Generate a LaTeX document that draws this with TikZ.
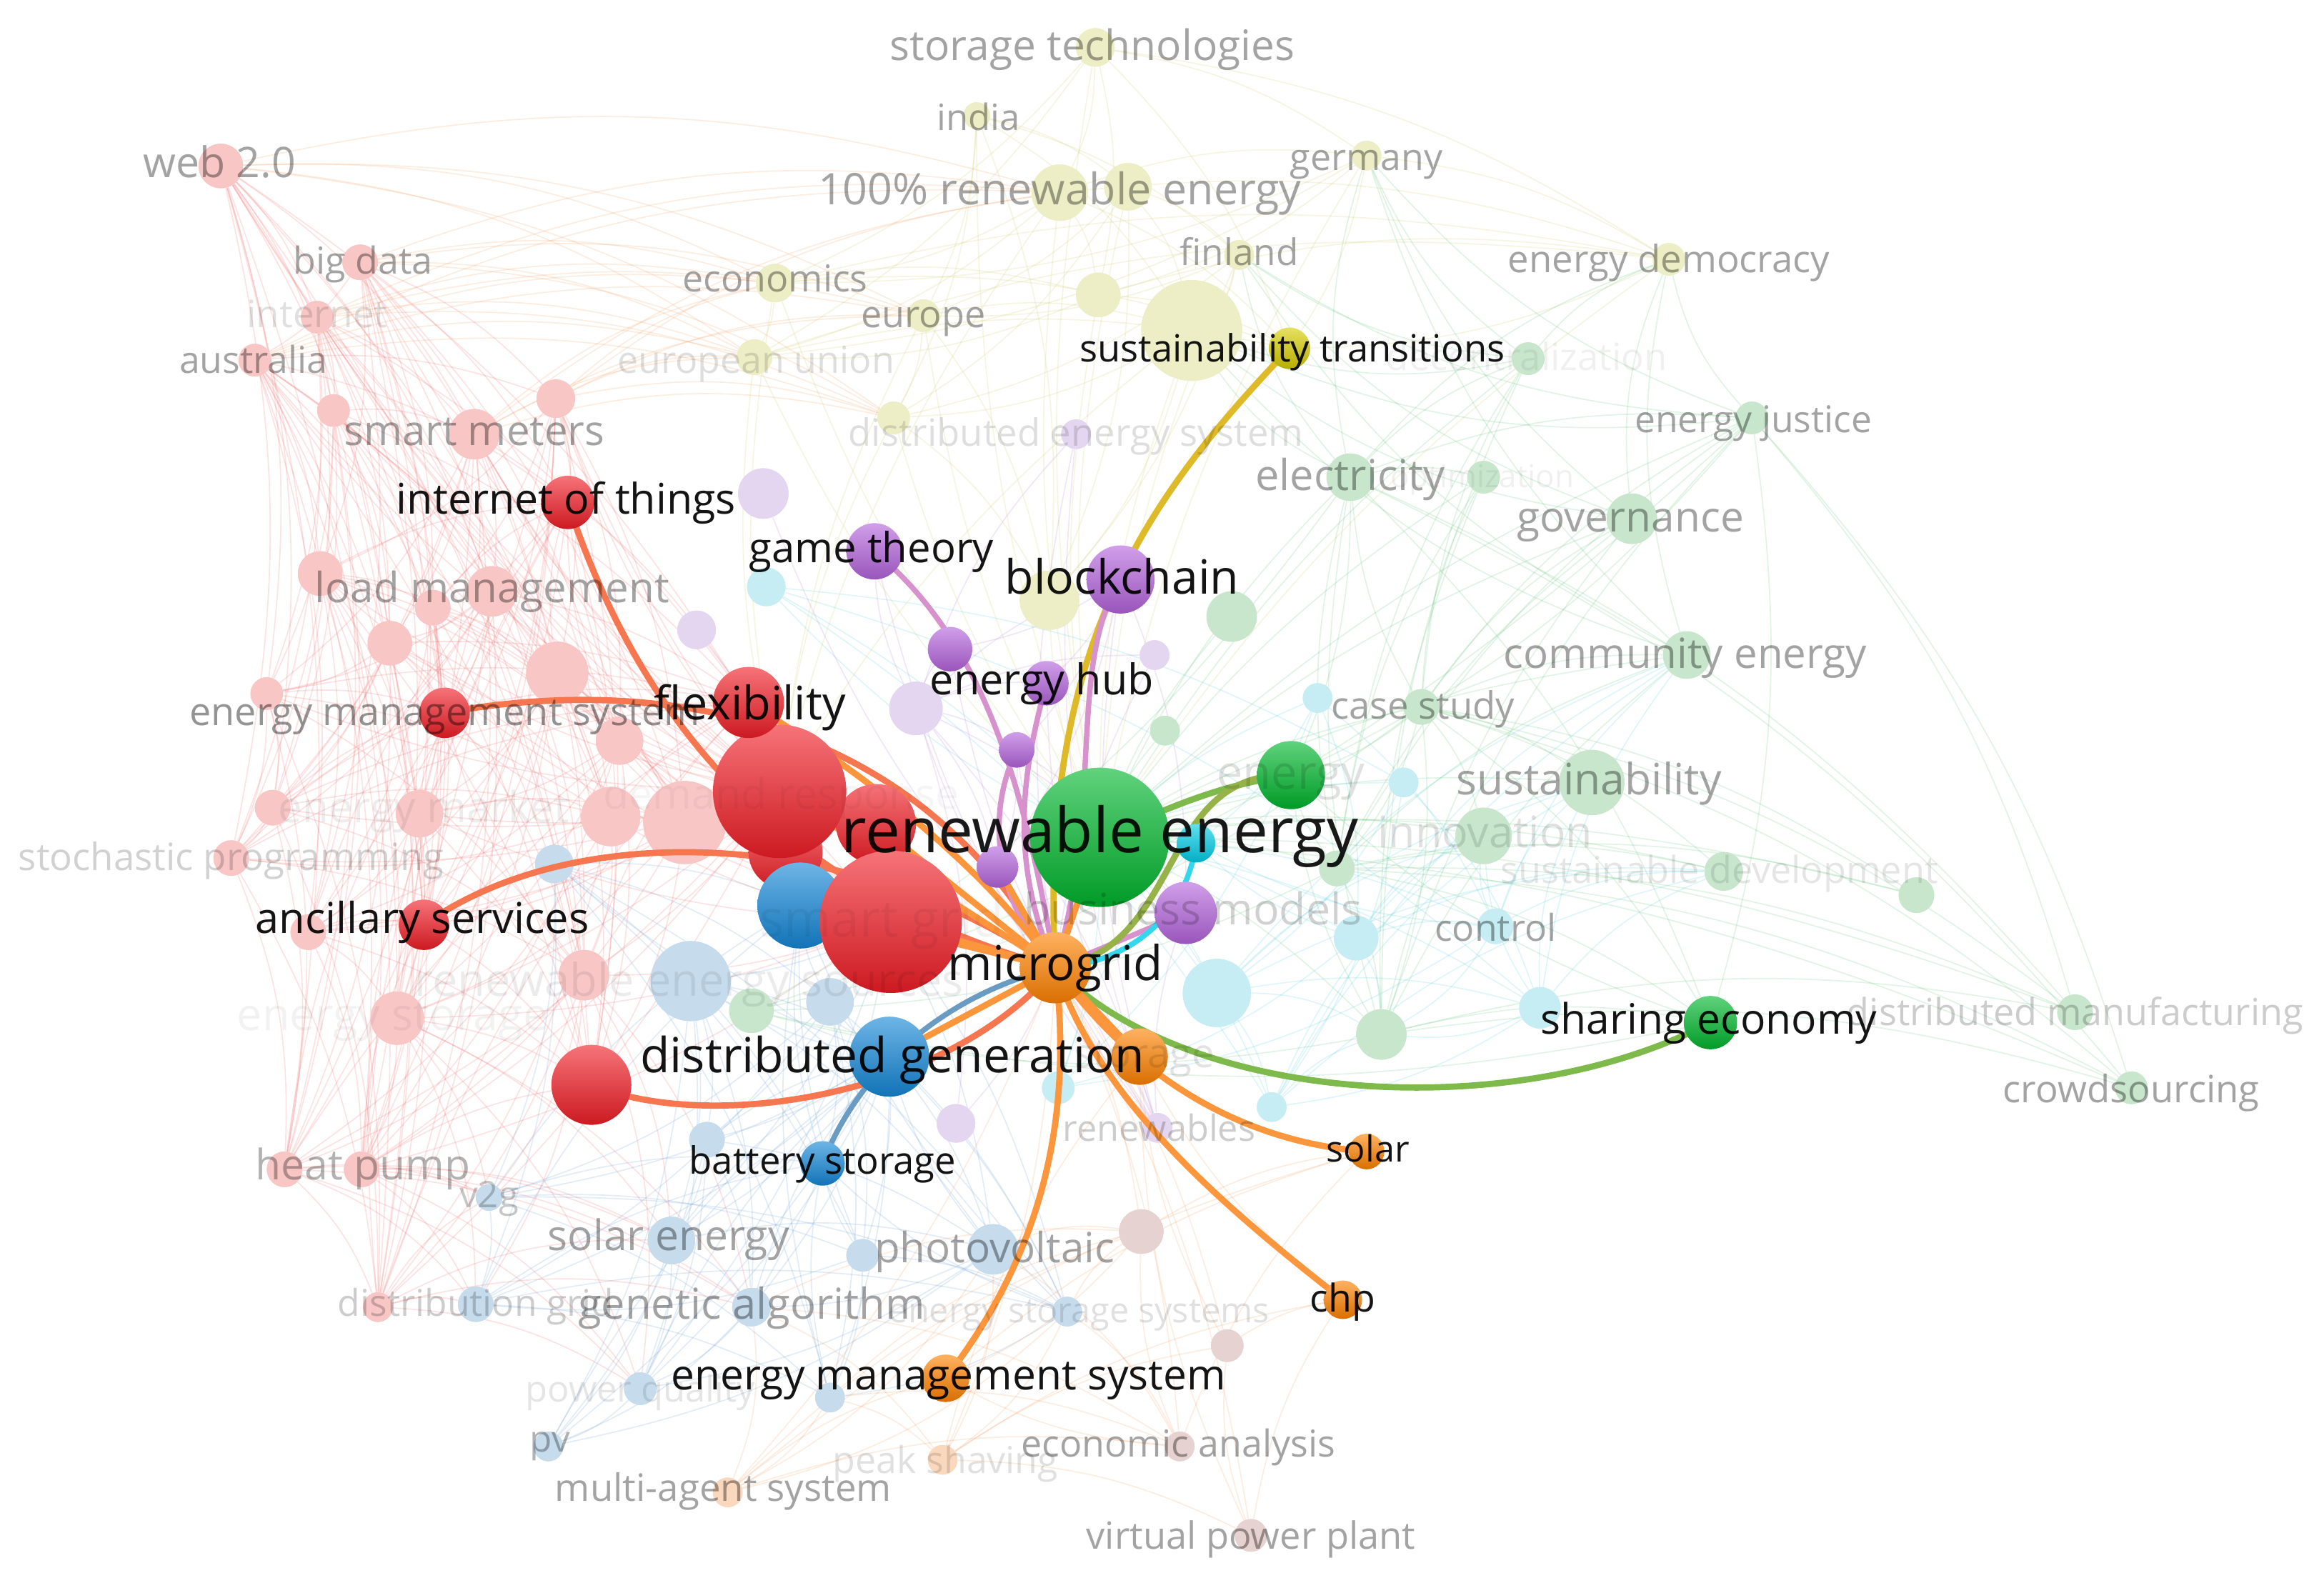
\documentclass[tikz,border=0pt]{standalone}
\usepackage{fontspec}
\setmainfont{Open Sans}
\usepackage{graphicx}
\definecolor{cR}{RGB}{240,30,38}
\definecolor{cB}{RGB}{20,135,215}
\definecolor{cG}{RGB}{0,182,45}
\definecolor{cY}{RGB}{215,205,0}
\definecolor{cP}{RGB}{180,100,220}
\definecolor{cO}{RGB}{255,130,0}
\definecolor{cC}{RGB}{0,205,230}
\definecolor{pR}{RGB}{249,198,198}
\definecolor{pB}{RGB}{198,220,237}
\definecolor{pG}{RGB}{200,230,204}
\definecolor{pY}{RGB}{237,237,198}
\definecolor{pP}{RGB}{228,214,240}
\definecolor{pC}{RGB}{198,237,243}
\definecolor{pO}{RGB}{250,216,190}
\definecolor{pN}{RGB}{230,210,208}
\definecolor{eR}{RGB}{240,110,110}
\definecolor{eB}{RGB}{110,160,215}
\definecolor{eG}{RGB}{100,195,120}
\definecolor{eY}{RGB}{205,205,110}
\definecolor{eP}{RGB}{185,130,215}
\definecolor{eC}{RGB}{90,205,225}
\definecolor{eO}{RGB}{245,160,100}
\definecolor{sO}{RGB}{252,150,60}
\definecolor{sRO}{RGB}{246,118,80}
\definecolor{sPk}{RGB}{215,145,205}
\definecolor{sYl}{RGB}{222,185,40}
\definecolor{sBl}{RGB}{105,155,195}
\definecolor{sGr}{RGB}{125,185,75}
\tikzset{
  fe/.style={line width=0.8pt, draw opacity=0.2},
  se/.style={line width=4.2pt, line cap=round},
}
\newcommand\pn[5]{\node[circle,inner sep=0pt,minimum size=2*#4pt,fill=#5] (#1) at (#2,#3) {};}
\newcommand\sn[5]{\node[circle,inner sep=0pt,minimum size=2*#4pt,top color=#5!62!white,bottom color=#5!85!black] (#1) at (#2,#3) {};}
\newcommand\lb[6]{\node[inner sep=0pt,text=black,text opacity=#5] (#1) at (#2,{#3+2}) {\resizebox{#4pt}{!}{\strut #6}};}
\newcommand\mesh[3]{%
  \foreach \a [count=\i] in {#1}{\foreach \b [count=\j] in {#1}{%
    \ifnum\j>\i \pgfmathtruncatemacro\k{mod(\i*7+\j*3,#3)}\ifnum\k=0 \draw[#2] (\a) to[bend left=12] (\b);\fi\fi}}}
\newcommand\hub[3]{\foreach \a in {#1}{\draw[#2] (\a) to[bend right=10] (#3);}}
\newcommand\cross[3]{\foreach \a in {#1}{\foreach \b in {#2}{\draw[#3] (\a) to[bend left=14] (\b);}}}
\begin{document}
\begin{tikzpicture}[x=1pt,y=-1pt]
\fill[white] (0,0) rectangle (1568,1068);
\useasboundingbox (0,0) rectangle (1568,1068);
% pale nodes: red
\pn{rw}{149}{112}{15}{pR}\pn{rbd}{243}{177}{12}{pR}\pn{rin}{214}{214}{11}{pR}
\pn{rau}{172}{243}{11}{pR}\pn{r5}{225}{277}{11}{pR}\pn{r6}{375}{269}{13}{pR}
\pn{rsm}{320}{293}{17}{pR}\pn{r8}{216}{387}{15}{pR}\pn{rlm}{332}{399}{17}{pR}
\pn{r10}{292}{410}{12}{pR}\pn{r11}{263}{434}{15}{pR}\pn{r12}{376}{454}{21}{pR}
\pn{r13}{180}{468}{11}{pR}\pn{r14}{418}{500}{16}{pR}\pn{r15}{184}{545}{12}{pR}
\pn{rem}{283}{549}{16}{pR}\pn{r17}{412}{551}{20}{pR}\pn{r18}{462}{555}{28}{pR}
\pn{rst}{156}{579}{12}{pR}\pn{r20}{208}{629}{12}{pR}\pn{r21}{394}{658}{17}{pR}
\pn{r22}{268}{687}{18}{pR}\pn{rhp1}{192}{789}{12}{pR}\pn{rhp2}{244}{789}{12}{pR}
\pn{rdg}{255}{882}{10}{pR}
% blue
\pn{b1}{374}{583}{13}{pB}\pn{b2}{466}{662}{27}{pB}\pn{b3}{560}{676}{16}{pB}
\pn{b4}{477}{769}{12}{pB}\pn{bv2g}{330}{808}{9}{pB}\pn{bse}{453}{837}{16}{pB}
\pn{b7}{582}{847}{11}{pB}\pn{bpv}{670}{843}{17}{pB}\pn{bdg}{321}{880}{12}{pB}
\pn{bga}{507}{882}{13}{pB}\pn{bes}{720}{885}{10}{pB}\pn{bpq}{432}{937}{11}{pB}
\pn{b13}{560}{943}{10}{pB}\pn{bpv2}{370}{976}{10}{pB}
% green
\pn{g1}{831}{416}{17}{pG}\pn{g2}{786}{493}{10}{pG}\pn{gcs}{959}{477}{12}{pG}
\pn{gsu}{1074}{528}{22}{pG}\pn{gin}{1001}{564}{19}{pG}\pn{g6}{902}{586}{12}{pG}
\pn{gsd}{1163}{588}{13}{pG}\pn{g8}{1293}{604}{12}{pG}\pn{g9}{932}{698}{17}{pG}
\pn{gcm}{1138}{442}{16}{pG}\pn{ggo}{1101}{350}{17}{pG}\pn{gel}{911}{322}{16}{pG}
\pn{g13}{1001}{322}{11}{pG}\pn{gdc}{1031}{242}{11}{pG}\pn{gej}{1182}{282}{11}{pG}
\pn{gdm}{1400}{683}{12}{pG}\pn{gcr}{1438}{734}{11}{pG}\pn{g18}{507}{682}{15}{pG}
% yellow
\pn{yst}{739}{32}{13}{pY}\pn{yin}{659}{78}{9}{pY}\pn{y100a}{715}{130}{19}{pY}
\pn{y100b}{761}{126}{16}{pY}\pn{yge}{922}{105}{10}{pY}\pn{yfi}{836}{172}{10}{pY}
\pn{yec}{523}{191}{13}{pY}\pn{yeu}{623}{213}{11}{pY}\pn{y9}{741}{199}{15}{pY}
\pn{y10}{804}{223}{34}{pY}\pn{yeun}{509}{241}{12}{pY}\pn{yds}{603}{282}{11}{pY}
\pn{yed}{1126}{175}{11}{pY}\pn{y14}{708}{405}{20}{pY}
% purple
\pn{p1}{515}{333}{17}{pP}\pn{p2}{470}{425}{13}{pP}\pn{p3}{618}{478}{18}{pP}
\pn{p4}{779}{442}{10}{pP}\pn{p5}{645}{758}{13}{pP}\pn{p6}{781}{761}{10}{pP}
\pn{p7}{726}{293}{10}{pP}
% cyan
\pn{c1}{517}{396}{13}{pC}\pn{c2}{889}{471}{10}{pC}\pn{c3}{947}{528}{10}{pC}
\pn{c4}{915}{633}{15}{pC}\pn{c5}{821}{670}{23}{pC}\pn{c6}{1009}{625}{12}{pC}
\pn{c7}{1039}{680}{14}{pC}\pn{c8}{714}{734}{11}{pC}\pn{c9}{858}{747}{10}{pC}
% orange / brown
\pn{oma}{491}{1007}{10}{pO}\pn{ops}{636}{985}{10}{pO}
\pn{n1}{770}{831}{15}{pN}\pn{n2}{828}{908}{11}{pN}\pn{nea}{796}{976}{10}{pN}
\pn{nvp}{844}{1036}{11}{pN}
% strong node positions (placeholders for faint edges)
\foreach \n/\x/\y in {sre/742/565,sen/871/523,ssh/1154/690,sst/870/235,
  sgt/590/372,sbc/756/391,seh/706/461,sp1/641/438,sp2/686/506,sp3/673/585,
  sbm/800/616,scy/807/569,smg/712/653,sso/769/713,ssol/922/777,schp/906/877,
  sems/638/930,siot/383/339,sflex/505/474,semr/300/481,sanc/286/624,
  sr1/526/534,sr4/530/575,sr3/591/556,sr2/601/622,srd/399/732,
  sb1/540/611,sdg/600/713,sbat/555/785}
  {\coordinate (\n) at (\x,\y);}
% ---------- faint edges ----------
\mesh{rw,rbd,rin,rau,r5,r6,rsm,r8,rlm,r10,r11,r12,r13,r14,r15,rem,r17,r18,rst,r20,r21,r22,rhp1,rhp2,rdg,siot,semr,sanc,sflex,srd}{fe,eR}{2}
\mesh{b1,b2,b3,b4,bv2g,bse,b7,bpv,bdg,bga,bes,bpq,b13,bpv2,sbat,sdg,sb1}{fe,eB}{2}
\mesh{g1,g2,gcs,gsu,gin,g6,gsd,g8,g9,gcm,ggo,gel,g13,gdc,gej,gdm,gcr,ssh,sen,g18}{fe,eG}{3}
\mesh{yst,yin,y100a,y100b,yge,yfi,yec,yeu,y9,y10,yeun,yds,yed,y14,sst}{fe,eY}{2}
\mesh{p1,p2,p3,p4,p5,p6,p7,sgt,sbc,seh,sp1,sp2,sp3,sbm}{fe,eP}{3}
\mesh{c1,c2,c3,c4,c5,c6,c7,c8,c9,scy}{fe,eC}{2}
\mesh{oma,ops,nea,nvp,n1,n2,sems,schp,ssol,sso}{fe,eO}{2}
\hub{rw,rbd,rin,rau,r5,r6,rsm,r8,rlm,r10,r11,r12,r13,r14,r15,rem,r17,r18,rst,r20,r21,r22,rhp1,rhp2,rdg}{fe,eR}{sr1}
\hub{rw,rau,r6,rsm,r8,rlm,r11,r12,r14,rem,r17,r21,r22,rhp2}{fe,eR}{sr2}
\hub{b1,b2,b3,b4,bv2g,bse,b7,bpv,bdg,bga,bes,bpq,b13,bpv2}{fe,eB}{sdg}
\hub{b2,b4,bse,bpv,bga,bes,bpq}{fe,eB}{sr2}
\hub{g1,g2,gcs,gsu,gin,g6,gsd,g8,g9,gcm,ggo,gel,g13,gdc,gej,gdm,gcr}{fe,eG}{sre}
\hub{yst,yin,y100a,y100b,yge,yfi,yec,yeu,y9,y10,yeun,yds,yed,y14}{fe,eY}{sre}
\hub{y100a,yec,yeu,yeun,yds,y10}{fe,eY}{sr1}
\hub{p1,p2,p3,p4,p5,p6,p7}{fe,eP}{smg}
\hub{c1,c2,c3,c4,c5,c6,c7,c8,c9}{fe,eC}{sre}
\hub{oma,ops,nea,nvp,n1,n2}{fe,eO}{smg}
\cross{rw,rbd,rin,rau,rsm,r6}{yec,yeun,yeu,yds,y100a}{fe,eO}
\cross{gdc,gel,ggo,gej,gcm}{yed,y10,yge,yfi}{fe,eG}
\cross{rhp1,rhp2,rdg,r22,r21}{bse,bga,bdg,bpq,bv2g}{fe,eR}
\cross{c4,c5,c6,c7,c9}{gsu,gin,gsd,g9,gcm}{fe,eC}
\cross{bpv,bes,b13,bga}{oma,ops,n1,nea}{fe,eO}
% re-draw pale nodes on top of faint edges
\foreach \n/\x/\y/\r/\c in {rw/149/112/15/pR,rbd/243/177/12/pR,rin/214/214/11/pR,rau/172/243/11/pR,r5/225/277/11/pR,r6/375/269/13/pR,rsm/320/293/17/pR,r8/216/387/15/pR,rlm/332/399/17/pR,r10/292/410/12/pR,r11/263/434/15/pR,r12/376/454/21/pR,r13/180/468/11/pR,r14/418/500/16/pR,r15/184/545/12/pR,rem/283/549/16/pR,r17/412/551/20/pR,r18/462/555/28/pR,rst/156/579/12/pR,r20/208/629/12/pR,r21/394/658/17/pR,r22/268/687/18/pR,rhp1/192/789/12/pR,rhp2/244/789/12/pR,rdg/255/882/10/pR,
b1/374/583/13/pB,b2/466/662/27/pB,b3/560/676/16/pB,b4/477/769/12/pB,bv2g/330/808/9/pB,bse/453/837/16/pB,b7/582/847/11/pB,bpv/670/843/17/pB,bdg/321/880/12/pB,bga/507/882/13/pB,bes/720/885/10/pB,bpq/432/937/11/pB,b13/560/943/10/pB,bpv2/370/976/10/pB,
g1/831/416/17/pG,g2/786/493/10/pG,gcs/959/477/12/pG,gsu/1074/528/22/pG,gin/1001/564/19/pG,g6/902/586/12/pG,gsd/1163/588/13/pG,g8/1293/604/12/pG,g9/932/698/17/pG,gcm/1138/442/16/pG,ggo/1101/350/17/pG,gel/911/322/16/pG,g13/1001/322/11/pG,gdc/1031/242/11/pG,gej/1182/282/11/pG,gdm/1400/683/12/pG,gcr/1438/734/11/pG,g18/507/682/15/pG,
yst/739/32/13/pY,yin/659/78/9/pY,y100a/715/130/19/pY,y100b/761/126/16/pY,yge/922/105/10/pY,yfi/836/172/10/pY,yec/523/191/13/pY,yeu/623/213/11/pY,y9/741/199/15/pY,y10/804/223/34/pY,yeun/509/241/12/pY,yds/603/282/11/pY,yed/1126/175/11/pY,y14/708/405/20/pY,
p1/515/333/17/pP,p2/470/425/13/pP,p3/618/478/18/pP,p4/779/442/10/pP,p5/645/758/13/pP,p6/781/761/10/pP,p7/726/293/10/pP,
c1/517/396/13/pC,c2/889/471/10/pC,c3/947/528/10/pC,c4/915/633/15/pC,c5/821/670/23/pC,c6/1009/625/12/pC,c7/1039/680/14/pC,c8/714/734/11/pC,c9/858/747/10/pC,
oma/491/1007/10/pO,ops/636/985/10/pO,n1/770/831/15/pN,n2/828/908/11/pN,nea/796/976/10/pN,nvp/844/1036/11/pN}
  {\fill[\c] (\x,\y) circle[radius=\r];}
% ---------- strong edges ----------
\draw[se,sRO] (siot) .. controls (430,480) and (520,600) .. (smg);
\draw[se,sRO] (semr) .. controls (440,455) and (620,480) .. (smg);
\draw[se,sRO] (sanc) .. controls (390,550) and (580,560) .. (smg);
\draw[se,sRO] (srd) .. controls (480,765) and (640,740) .. (smg);
\draw[se,sBl,line width=3.6pt] (sbat) .. controls (580,720) and (640,670) .. (smg);
\draw[se,sYl] (sst) .. controls (780,330) and (700,430) .. (smg);
\draw[se,sPk,line width=3.6pt] (sgt) .. controls (660,430) and (690,520) .. (smg);
\draw[se,sPk,line width=3.6pt] (sbc) .. controls (720,450) and (745,540) .. (smg);
\draw[se,sPk,line width=3.6pt] (seh) .. controls (690,520) and (680,580) .. (smg);
\draw[se,sPk,line width=3.6pt] (sp2) .. controls (660,560) and (680,620) .. (smg);
\draw[se,sPk,line width=3.6pt] (sbm) -- (smg);
\draw[se,cC!80!white,line width=3.6pt] (scy) .. controls (800,620) and (760,650) .. (smg);
\draw[se,sGr] (sen) .. controls (820,530) and (790,545) .. (sre);
\draw[se,sGr!80!sO] (sen) .. controls (780,520) and (800,640) .. (smg);
\draw[se,sGr] (ssh) .. controls (1020,760) and (800,745) .. (smg);
\draw[se,sO] (ssol) .. controls (830,770) and (760,720) .. (smg);
\draw[se,sO] (schp) .. controls (820,810) and (740,740) .. (smg);
\draw[se,sO] (sems) .. controls (700,850) and (725,760) .. (smg);
\draw[se,sO] (sso) -- (smg);
\draw[se,sO] (sdg) -- (smg);
\draw[se,sO] (sre) -- (smg);
\draw[se,sO] (sr1) -- (smg);
\draw[se,sO] (sr3) -- (smg);
\draw[se,sO] (sr2) -- (smg);
\draw[se,sO] (sb1) -- (smg);
\draw[se,sO] (sp3) -- (smg);
\draw[se,sO] (sflex) .. controls (580,520) and (660,580) .. (smg);
% ---------- strong nodes ----------
\sn{sr4}{530}{575}{25}{cR}
\sn{sr3}{591}{556}{27}{cR}
\sn{sr1}{526}{534}{45}{cR}
\sn{sb1}{540}{611}{29}{cB}
\sn{sr2}{601}{622}{48}{cR}
\sn{sflex}{505}{474}{24}{cR}
\sn{siot}{383}{339}{18}{cR}
\sn{semr}{300}{481}{17}{cR}
\sn{sanc}{286}{624}{17}{cR}
\sn{srd}{399}{732}{27}{cR}
\sn{sdg}{600}{713}{27}{cB}
\sn{sbat}{555}{785}{15}{cB}
\sn{sre}{742}{565}{47}{cG}
\sn{sen}{871}{523}{23}{cG}
\sn{ssh}{1154}{690}{18}{cG}
\sn{sst}{870}{235}{14}{cY}
\sn{sgt}{590}{372}{19}{cP}
\sn{sbc}{756}{391}{23}{cP}
\sn{seh}{706}{461}{15}{cP}
\sn{sp1}{641}{438}{15}{cP}
\sn{sp2}{686}{506}{12}{cP}
\sn{sp3}{673}{585}{14}{cP}
\sn{sbm}{800}{616}{21}{cP}
\sn{scy}{807}{569}{13}{cC}
\sn{smg}{712}{653}{24}{cO}
\sn{sso}{769}{713}{19}{cO}
\sn{ssol}{922}{777}{12}{cO}
\sn{schp}{906}{877}{13}{cO}
\sn{sems}{638}{930}{16}{cO}
% ---------- faded labels ----------
\lb{lst}{737}{32}{273}{0.36}{storage technologies}
\lb{lin}{660}{80}{56}{0.36}{india}
\lb{l100}{715}{129}{326}{0.36}{100\% renewable energy}
\lb{lge}{922}{107}{103}{0.36}{germany}
\lb{lweb}{148}{111}{103}{0.36}{web 2.0}
\lb{lbd}{245}{177}{94}{0.36}{big data}
\lb{lec}{523}{189}{125}{0.36}{economics}
\lb{lfi}{836}{171}{80}{0.36}{finland}
\lb{led}{1126}{176}{217}{0.36}{energy democracy}
\lb{leu}{623}{213}{84}{0.36}{europe}
\lb{lint}{214}{213}{95}{0.12}{internet}
\lb{lau}{171}{244}{100}{0.36}{australia}
\lb{leun}{510}{244}{187}{0.13}{european union}
\lb{ldc}{1030}{242}{190}{0.06}{decentralization}
\lb{lej}{1183}{284}{160}{0.36}{energy justice}
\lb{lsm}{320}{292}{176}{0.36}{smart meters}
\lb{lds}{726}{293}{307}{0.13}{distributed energy system}
\lb{lel}{911}{322}{128}{0.36}{electricity}
\lb{lop}{1000}{322}{124}{0.06}{optimization}
\lb{lgo}{1100}{350}{153}{0.36}{governance}
\lb{llm}{332}{398}{239}{0.36}{load management}
\lb{lcm}{1137}{442}{245}{0.36}{community energy}
\lb{lcs}{960}{477}{124}{0.36}{case study}
\lb{lemr}{300}{481}{344}{0.42}{energy management system}
\lb{len}{871}{523}{100}{0.12}{energy}
\lb{lsu}{1072}{527}{179}{0.36}{sustainability}
\lb{ldr}{527}{537}{240}{0.04}{demand response}
\lb{lemk}{286}{546}{196}{0.07}{energy market}
\lb{linn}{1002}{563}{145}{0.12}{innovation}
\lb{lstp}{156}{579}{287}{0.18}{stochastic programming}
\lb{lsd}{1160}{588}{295}{0.1}{sustainable development}
\lb{lbm}{805}{615}{228}{0.18}{business models}
\lb{lsg}{595}{622}{165}{0.05}{smart grid}
\lb{lco}{1009}{627}{82}{0.36}{control}
\lb{lres}{465}{663}{370}{0.08}{renewable energy sources}
\lb{lens}{265}{686}{210}{0.05}{energy storage}
\lb{ldm}{1400}{684}{308}{0.2}{distributed manufacturing}
\lb{lsto}{772}{712}{95}{0.11}{storage}
\lb{lcr}{1438}{736}{173}{0.36}{crowdsourcing}
\lb{lrens}{782}{762}{130}{0.2}{renewables}
\lb{lhp}{245}{787}{145}{0.3}{heat pump}
\lb{lv2g}{330}{807}{40}{0.22}{v2g}
\lb{lse}{451}{835}{163}{0.36}{solar energy}
\lb{lpv}{671}{843}{162}{0.36}{photovoltaic}
\lb{ldg}{321}{880}{186}{0.2}{distribution grid}
\lb{lga}{507}{881}{234}{0.36}{genetic algorithm}
\lb{less}{728}{885}{257}{0.12}{energy storage systems}
\lb{lpq}{432}{938}{155}{0.1}{power quality}
\lb{lpv2}{371}{972}{27}{0.3}{pv}
\lb{lea}{795}{975}{212}{0.36}{economic analysis}
\lb{lps}{638}{986}{152}{0.12}{peak shaving}
\lb{lma}{488}{1005}{227}{0.36}{multi-agent system}
\lb{lvp}{844}{1037}{222}{0.36}{virtual power plant}
% ---------- highlighted labels ----------
\lb{Lre}{742}{563}{349}{0.9}{renewable energy}
\lb{Lmg}{712}{652}{145}{0.92}{microgrid}
\lb{Ldg}{602}{714}{340}{0.92}{distributed generation}
\lb{Lfl}{506}{476}{129}{0.92}{flexibility}
\lb{Liot}{382}{338}{229}{0.92}{internet of things}
\lb{Lgt}{588}{371}{165}{0.92}{game theory}
\lb{Lbc}{757}{391}{158}{0.92}{blockchain}
\lb{Leh}{703}{460}{151}{0.92}{energy hub}
\lb{Lst}{872}{236}{287}{0.92}{sustainability transitions}
\lb{Lan}{285}{621}{225}{0.92}{ancillary services}
\lb{Lbs}{555}{784}{180}{0.92}{battery storage}
\lb{Lsh}{1153}{689}{227}{0.92}{sharing economy}
\lb{Lso}{923}{776}{56}{0.92}{solar}
\lb{Lchp}{906}{877}{44}{0.92}{chp}
\lb{Lems}{640}{929}{374}{0.92}{energy management system}
\end{tikzpicture}
\end{document}
